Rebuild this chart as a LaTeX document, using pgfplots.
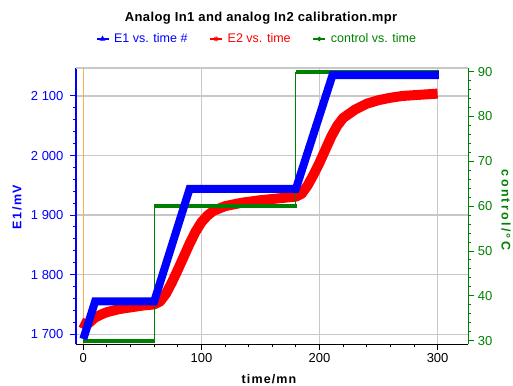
\documentclass[border=0pt]{standalone}
\usepackage{pgfplots}
\pgfplotsset{compat=1.18}
\usepackage{fontspec}
\setmainfont{Liberation Sans}
\definecolor{cblue}{RGB}{0,0,255}
\definecolor{cred}{RGB}{255,0,0}
\definecolor{cgreen}{RGB}{0,128,0}
\definecolor{corange}{RGB}{255,170,90}
\definecolor{cgrid}{RGB}{200,200,200}
\newcommand{\tickfont}{\fontsize{13}{15}\selectfont}
\begin{document}
\begin{tikzpicture}
\path[use as bounding box] (0,0) rectangle (513pt,385pt);
\pgfplotsset{
  base/.style={
    at={(76pt,40.7pt)}, anchor=south west, scale only axis,
    width=392.3pt, height=276.3pt,
    xmin=-6.2, xmax=326,
    tick align=outside, major tick length=6pt, minor tick length=3pt,
    /pgf/number format/assume math mode=true,
    /pgf/number format/1000 sep={\ },
    tick label style={font=\tickfont},
  }
}
% left axis, grid, red series
\begin{axis}[base,
  ymin=1683, ymax=2147,
  axis x line*=bottom, axis y line*=left,
  x axis line style={black, line width=0.9pt, -},
  y axis line style={cblue, line width=1.3pt, -},
  xtick={0,100,200,300}, minor x tick num=4,
  ytick={1700,1800,1900,2000,2100}, minor y tick num=4,
  x tick style={black, line width=0.9pt},
  y tick style={cblue, line width=1pt},
  yticklabel style={cblue, xshift=-3pt},
  grid=major, major grid style={cgrid, line width=1.2pt},
]
\draw[cgrid, line width=1.2pt] (rel axis cs:0,1) -- (rel axis cs:1,1);
\addplot[corange, line width=1.2pt] coordinates {(0,1683) (0,2147)};
\addplot[cred, line width=10pt, line join=round] coordinates {
(-2,1720) (0,1718) (3,1716) (6,1721) (10,1728) (15,1733) (20,1737) (30,1742)
(40,1745) (50,1748) (60,1750) (65,1755) (70,1768) (75,1787) (80,1808)
(85,1830) (90,1852) (95,1872) (100,1888) (105,1899) (110,1907) (120,1915)
(135,1921) (150,1925) (165,1928) (180,1931) (185,1936) (190,1950) (195,1968)
(200,1988) (205,2010) (210,2032) (215,2050) (220,2063) (230,2077) (240,2087)
(250,2093) (260,2097) (270,2100) (285,2102) (300,2104)};
\end{axis}
% right axis, control
\begin{axis}[base,
  ymin=29.2, ymax=90.8,
  axis x line=none, axis y line*=right,
  y axis line style={cgreen, line width=1.3pt, -},
  ytick={30,40,50,60,70,80,90}, minor y tick num=4,
  y tick style={cgreen, line width=1pt},
  yticklabel style={cgreen},
]
\addplot[cgreen, line width=1pt] coordinates {(60,30) (60,60)};
\addplot[cgreen, line width=1pt] coordinates {(180,60) (180,90)};
\addplot[cgreen, line width=4pt] coordinates {(0,30) (61,30)};
\addplot[cgreen, line width=4pt] coordinates {(60,60) (181,60)};
\addplot[cgreen, line width=4pt] coordinates {(180,90) (301,90)};
\end{axis}
% blue series on top, legend
\begin{axis}[base,
  ymin=1683, ymax=2147, hide axis,
  legend style={draw=none, fill=none, at={(0.4614,1.105)}, anchor=center,
    legend columns=3, font=\fontsize{12.5}{14}\selectfont,
    /tikz/every even column/.append style={column sep=20pt},
    /tikz/every odd column/.append style={column sep=3pt},
    nodes={inner sep=2pt}},
  legend image code/.code={\draw[mark repeat=2, mark phase=2, #1] plot coordinates {(0pt,0pt) (6pt,0pt) (12pt,0pt)};},
]
\addlegendimage{cblue, line width=1.2pt, mark=triangle*, mark size=2.2pt}
\addlegendentry{\textcolor{cblue}{E1 vs. time \#}}
\addlegendimage{cred, line width=1.2pt, mark=asterisk, mark size=2.5pt}
\addlegendentry{\textcolor{cred}{E2 vs. time}}
\addlegendimage{cgreen, line width=1.2pt, mark=*, mark size=1.6pt}
\addlegendentry{\textcolor{cgreen}{control vs. time}}
\addplot[cblue, line width=8pt, forget plot] coordinates {
(0,1692) (10,1755) (60,1755) (90,1944) (180,1944) (211,2135) (301,2135)};
\end{axis}
\node[font=\bfseries\fontsize{13}{15}\selectfont\addfontfeature{LetterSpace=3}] at (261pt,367pt) {Analog In1 and analog In2 calibration.mpr};
\node[font=\bfseries\fontsize{12.5}{15}\selectfont\addfontfeature{LetterSpace=9}, anchor=base, inner sep=0pt] at (269pt,2pt) {time/mn};
\node[font=\bfseries\fontsize{12.5}{15}\selectfont\addfontfeature{LetterSpace=12}, rotate=90, text=cblue] at (17pt,178pt) {E1/mV};
\node[font=\bfseries\fontsize{12.5}{15}\selectfont\addfontfeature{LetterSpace=18}, rotate=-90, text=cgreen] at (506pt,175pt) {control/°C};
\end{tikzpicture}
\end{document}
